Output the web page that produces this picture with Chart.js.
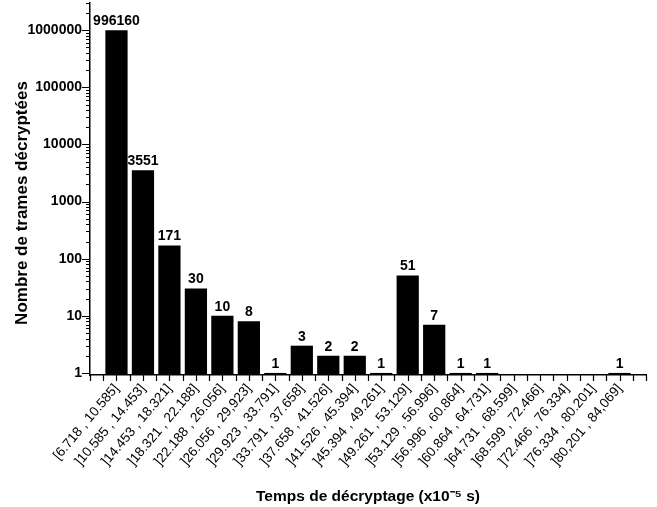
<!DOCTYPE html>
<html>
<head>
<meta charset="utf-8">
<script src="https://cdn.jsdelivr.net/npm/chart.js@4.4.1/dist/chart.umd.min.js"></script>
<style>
  html, body { margin: 0; padding: 0; background: #fff; }
</style>
</head>
<body>
<canvas id="histo" width="657" height="507"></canvas>
<script>
// time intervals (x10^-5 s) and number of decrypted frames per interval
const intervals = [
    '[6.718 , 10.585]', ']10.585 , 14.453]', ']14.453 , 18.321]', ']18.321 , 22.188]',
    ']22.188 , 26.056]', ']26.056 , 29,923]', ']29.923 , 33.791]', ']33.791 , 37.658]',
    ']37.658 , 41.526]', ']41.526 , 45.394]', ']45.394 , 49.261]', ']49.261 , 53.129]',
    ']53.129 , 56.996]', ']56.996 , 60.864]', ']60.864 , 64.731]', ']64.731 , 68.599]',
    ']68.599 , 72.466]', ']72.466 , 76.334]', ']76.334 , 80.201]', ']80,201 , 84,069]'
];
const counts = [996160, 3551, 171, 30, 10, 8, 1, 3, 2, 2, 1, 51, 7, 1, 1, 0, 0, 0, 0, 1];
const yTickLabels = [1, 10, 100, 1000, 10000, 100000, 1000000];
const yTitle = 'Nombre de trames décryptées';

Chart.defaults.font.family = "'Liberation Sans', Arial, sans-serif";
Chart.defaults.color = '#000';

// tick marks: long on decades, short on 2..9, and every half bin on x
const axisTicks = {
    id: 'axisTicks',
    afterDraw(chart) {
        const ctx = chart.ctx;
        const xs = chart.scales.x, ys = chart.scales.y;
        ctx.save();
        ctx.strokeStyle = '#000';
        ctx.lineWidth = 1.2;
        ctx.beginPath();
        yTickLabels.forEach(dec => {
            for (let m = 1; m <= 9; m++) {
                const v = dec * m;
                if (v > ys.max) break;
                const py = Math.round(ys.getPixelForValue(v)) + 0.5;
                ctx.moveTo(ys.right, py);
                ctx.lineTo(ys.right - (m === 1 ? 8 : 4), py);
            }
        });
        for (let v = xs.min; v <= xs.max; v += 0.5) {
            const px = Math.round(xs.getPixelForValue(v)) + 0.5;
            ctx.moveTo(px, xs.top);
            ctx.lineTo(px, xs.top + 6);
        }
        ctx.stroke();

        // y axis title, centred a bit lower than the plot like the original
        ctx.font = 'bold 17px "Liberation Sans", Arial, sans-serif';
        ctx.fillStyle = '#000';
        ctx.textAlign = 'center';
        ctx.textBaseline = 'middle';
        ctx.translate(22, 203);
        ctx.rotate(-Math.PI / 2);
        ctx.fillText(yTitle, 0, 0);
        ctx.restore();
    }
};

// count written above each bar
const barValues = {
    id: 'barValues',
    afterDatasetsDraw(chart) {
        const ctx = chart.ctx;
        const meta = chart.getDatasetMeta(0);
        ctx.save();
        ctx.font = 'bold 14px "Liberation Sans", Arial, sans-serif';
        ctx.fillStyle = '#000';
        ctx.textAlign = 'center';
        ctx.textBaseline = 'bottom';
        meta.data.forEach((bar, i) => {
            if (!counts[i]) return;
            ctx.fillText(String(counts[i]), bar.x, bar.y - 2);
        });
        ctx.restore();
    }
};

new Chart(document.getElementById('histo'), {
    type: 'bar',
    data: {
        datasets: [{
            data: counts.map((c, i) => ({ x: i + 1, y: c > 0 ? c : null })),
            backgroundColor: '#000',
            borderWidth: 0,
            barPercentage: 0.84,
            categoryPercentage: 1
        }]
    },
    options: {
        responsive: false,
        animation: false,
        layout: { padding: { left: 0, right: 11, top: 3, bottom: 0 } },
        plugins: {
            legend: { display: false },
            tooltip: { enabled: false }
        },
        scales: {
            x: {
                type: 'linear',
                min: 0,
                max: 21,
                offset: false,
                afterBuildTicks: scale => {
                    scale.ticks = intervals.map((_, i) => ({ value: i + 1 }));
                },
                afterFit: scale => {
                    scale.height = 132;
                    scale.paddingLeft = 0;
                    scale.paddingRight = 0;
                },
                grid: { display: false, drawTicks: false },
                border: { display: true, color: '#000', width: 1.5 },
                ticks: {
                    autoSkip: false,
                    minRotation: 50,
                    maxRotation: 50,
                    padding: 6,
                    font: { size: 13.5 },
                    callback: v => intervals[v - 1]
                },
                title: {
                    display: true,
                    text: 'Temps de décryptage (x10\u207B\u2075 s)',
                    font: { size: 15.5, weight: 'bold' },
                    padding: { top: 0, bottom: 1 }
                }
            },
            y: {
                type: 'logarithmic',
                min: 0.92,
                max: 3000000,
                afterBuildTicks: scale => {
                    scale.ticks = yTickLabels.map(v => ({ value: v }));
                },
                afterFit: scale => {
                    scale.width = 90;
                    scale.paddingTop = 0;
                    scale.paddingBottom = 0;
                },
                grid: { display: false, drawTicks: false },
                border: { display: true, color: '#000', width: 1.5 },
                ticks: {
                    autoSkip: false,
                    padding: 8,
                    font: { size: 14, weight: 'bold' },
                    callback: v => String(v)
                },
                title: { display: false }
            }
        }
    },
    plugins: [axisTicks, barValues]
});
</script>
</body>
</html>
